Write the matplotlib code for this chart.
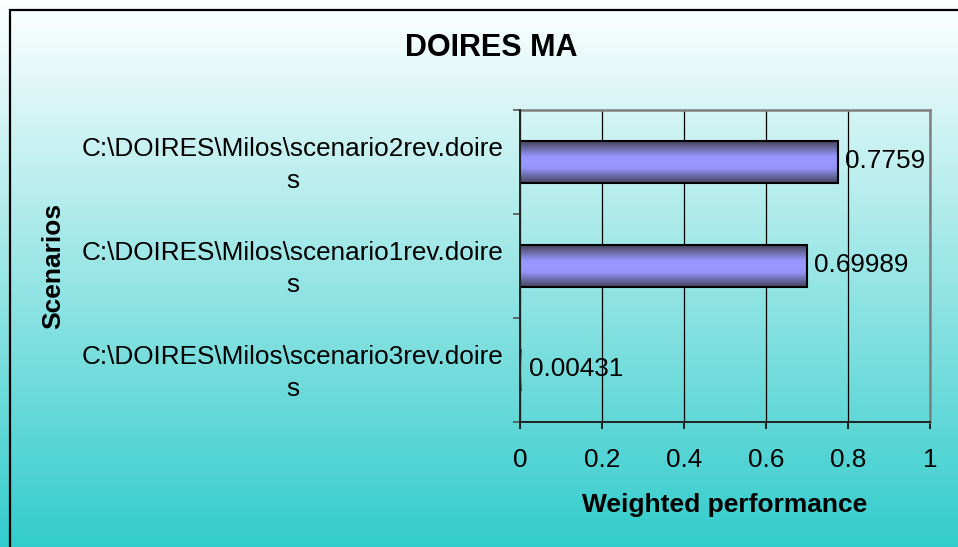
import matplotlib
matplotlib.use("Agg")
import matplotlib.pyplot as plt
import matplotlib.transforms as mtransforms
import numpy as np
from matplotlib.colors import LinearSegmentedColormap
from matplotlib.patches import Rectangle

plt.rcParams['font.family'] = ['Liberation Sans', 'DejaVu Sans']

# data (top to bottom as shown)
scenarios = [
    "C:\\DOIRES\\Milos\\scenario2rev.doire\ns",
    "C:\\DOIRES\\Milos\\scenario1rev.doire\ns",
    "C:\\DOIRES\\Milos\\scenario3rev.doire\ns",
]
performance = [0.7759, 0.69989, 0.00431]
value_labels = ["0.7759", "0.69989", "0.00431"]
x_ticks = [0, 0.2, 0.4, 0.6, 0.8, 1]
x_tick_labels = ["0", "0.2", "0.4", "0.6", "0.8", "1"]

W, H = 958, 547
fig = plt.figure(figsize=(W / 100, H / 100), dpi=100)

# background gradient, white at top -> teal at bottom
bg = fig.add_axes([0, 0, 1, 1], zorder=-10)
top = np.array([1.0, 1.0, 1.0])
bot = np.array([0x33, 0xCC, 0xCC]) / 255
t = np.linspace(0, 1, 256)[:, None]
grad = (top * (1 - t) + bot * t)[:, None, :]
bg.imshow(grad, aspect='auto', extent=[0, 1, 0, 1], origin='upper')
bg.add_patch(Rectangle((10 / W, -0.1), 1.2, 1 - 10 / H + 0.1, fill=False,
                       edgecolor='black', linewidth=1.6, transform=bg.transAxes))
bg.set_xlim(0, 1)
bg.set_ylim(0, 1)
bg.axis('off')

ax = fig.add_axes([520 / W, 1 - 422 / H, 410 / W, 312 / H])
ax.patch.set_alpha(0)

n = len(scenarios)
ypos = np.arange(n)[::-1]  # first item at top
edge_w = [1.5 if v > 0.01 else 0 for v in performance]
bars = ax.barh(ypos, performance, height=0.4, facecolor='none',
               edgecolor='black', linewidth=edge_w, zorder=4)

bar_cmap = LinearSegmentedColormap.from_list(
    'barg', [(0.0, '#45455e'), (0.35, '#9494f8'), (0.5, '#9999ff'),
             (0.65, '#9494f8'), (1.0, '#45455e')])
gv = np.linspace(0, 1, 64)[:, None]
for b in bars:
    x0, y0 = b.get_x(), b.get_y()
    ax.imshow(gv, cmap=bar_cmap, aspect='auto', origin='upper',
              extent=[x0, x0 + b.get_width(), y0, y0 + b.get_height()],
              zorder=3, interpolation='bilinear')

for y, v, lab in zip(ypos, performance, value_labels):
    ax.annotate(lab, (v, y), xytext=(5, 1), textcoords='offset points',
                ha='left', va='center', fontsize=18.8, zorder=5)

ax.set_xlim(0, 1)
ax.set_ylim(-0.5, n - 0.5)
ax.set_xticks(x_ticks)
ax.set_xticklabels(x_tick_labels, fontsize=18.8)
ax.grid(axis='x', color='black', linewidth=0.9, zorder=1)
ax.set_axisbelow(True)

# category ticks at band edges, labels at centres
ax.set_yticks(np.arange(n + 1) - 0.5)
ax.set_yticklabels([])
ax.set_yticks(ypos, minor=True)
ax.set_yticklabels(scenarios, minor=True, fontsize=18.8, multialignment='center',
                   linespacing=1.45)
ax.tick_params(axis='y', which='minor', length=0, pad=12)
ax.tick_params(axis='y', which='major', length=5, width=1.2, color='#555555')
ax.tick_params(axis='x', length=5, width=1.2, pad=14)
# nudge the wrapped category labels up a little
shift = mtransforms.ScaledTranslation(0, 4 / 100, fig.dpi_scale_trans)
for lbl in ax.get_yticklabels(minor=True):
    lbl.set_transform(lbl.get_transform() + shift)

for s in ['left', 'bottom']:
    ax.spines[s].set_color('#222222')
    ax.spines[s].set_linewidth(1.4)
    ax.spines[s].set_zorder(6)
for s in ['top', 'right']:
    ax.spines[s].set_color('#808080')
    ax.spines[s].set_linewidth(1.8)

ax.set_xlabel("Weighted performance", fontsize=19, fontweight='bold', labelpad=15)
ax.set_ylabel("Scenarios", fontsize=19, fontweight='bold')
ax.yaxis.set_label_coords(-1.11, 0.5)

fig.text(491 / W, 1 - 48 / H, "DOIRES MA", fontsize=22, fontweight='bold',
         ha='center', va='center')

fig.savefig("out.png", dpi=100)
